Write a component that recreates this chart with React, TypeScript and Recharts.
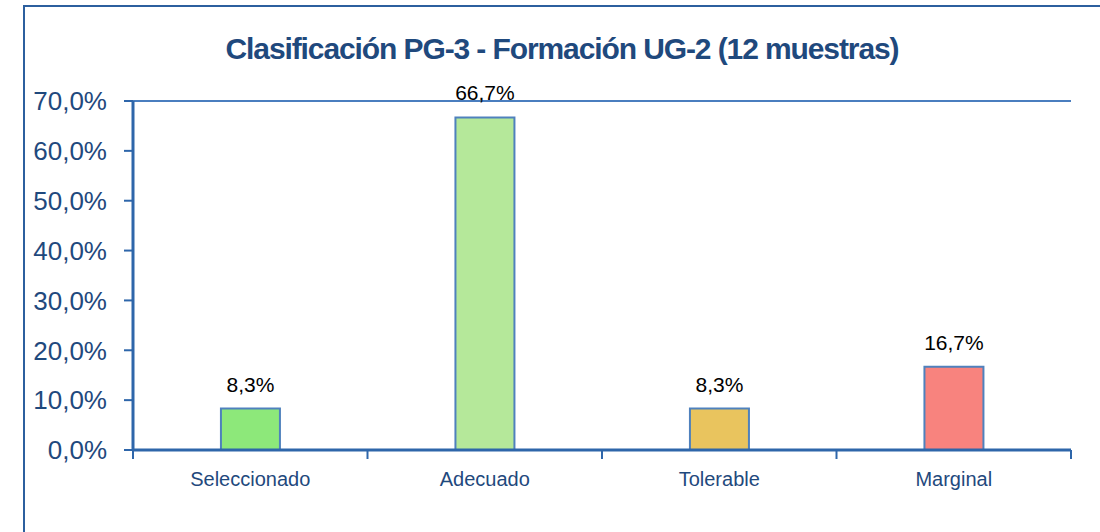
import React from "react";
import { BarChart, Bar, XAxis, YAxis, CartesianGrid, LabelList, Cell } from "recharts";

const categories = ["Seleccionado", "Adecuado", "Tolerable", "Marginal"];
const values = [8.3, 66.7, 8.3, 16.7];
const colors = ["#8DE87A", "#B5E89A", "#E9C45E", "#F8837E"];
const yTicks = [0, 10, 20, 30, 40, 50, 60, 70];
const title = "Clasificación PG-3 - Formación UG-2 (12 muestras)";

const data = categories.map((c, i) => ({ name: c, value: values[i] }));

const AXIS = "#2E66AA";
const GRID = "#4A7EBF";
const TEXT = "#1F497D";

const fmtPct = (v: number) => v.toFixed(1).replace(".", ",") + "%";

const XTick = (props: any) => {
  const { x, y, payload, index, visibleTicksCount } = props;
  const off = payload.offset || 0;
  const last = index === (visibleTicksCount ?? categories.length) - 1;
  return (
    <g>
      <line x1={x - off} x2={x - off} y1={y} y2={y + 9} stroke={AXIS} strokeWidth={2} />
      {last && <line x1={x + off} x2={x + off} y1={y} y2={y + 9} stroke={AXIS} strokeWidth={2} />}
      <text
        x={x}
        y={y + 22}
        dy="0.71em"
        textAnchor="middle"
        fill={TEXT}
        fontSize={20}
        fontFamily="'Liberation Sans', Arial, sans-serif"
      >
        {payload.value}
      </text>
    </g>
  );
};

export default function App() {
  return (
    <div style={{ position: "absolute", left: 0, top: 0, width: 1100, height: 532, overflow: "hidden", background: "#fff" }}>
      <div
        style={{
          position: "absolute",
          left: 23,
          top: 5,
          width: 1300,
          height: 700,
          border: "2px solid #2C5F9E",
          boxSizing: "border-box",
        }}
      />
      <svg width={1100} height={80} style={{ position: "absolute", left: 0, top: 0 }}>
        <text
          x={562}
          y={59}
          textAnchor="middle"
          fill={TEXT}
          fontSize={30}
          fontWeight="bold"
          letterSpacing={-1.1}
          fontFamily="'Liberation Sans', Arial, sans-serif"
        >
          {title}
        </text>
      </svg>
      <div style={{ position: "absolute", left: 0, top: 0 }}>
        <BarChart
          width={1100}
          height={532}
          data={data}
          margin={{ top: 101, right: 29, left: 0, bottom: 0 }}
          barCategoryGap="37.5%"
        >
          <CartesianGrid vertical={false} stroke={GRID} strokeWidth={2} />
          <XAxis
            dataKey="name"
            height={82}
            axisLine={{ stroke: AXIS, strokeWidth: 3 }}
            tickLine={false}
            tickSize={0}
            tickMargin={0}
            tick={<XTick />}
            interval={0}
          />
          <YAxis
            yAxisId="left"
            width={133}
            domain={[0, 70]}
            ticks={yTicks}
            tickFormatter={fmtPct}
            axisLine={{ stroke: AXIS, strokeWidth: 3 }}
            tickLine={{ stroke: AXIS, strokeWidth: 2 }}
            tickSize={9}
            tickMargin={17}
            tick={{ fill: TEXT, fontSize: 26, fontFamily: "'Liberation Sans', Arial, sans-serif" }}
          />
          <YAxis
            yAxisId="right"
            orientation="right"
            width={0}
            domain={[0, 70]}
            tick={false}
            tickLine={false}
            axisLine={{ stroke: AXIS, strokeWidth: 2 }}
          />
          <Bar yAxisId="left" dataKey="value" isAnimationActive={false} stroke="#4F81BD" strokeWidth={2}>
            {data.map((d, i) => (
              <Cell key={d.name} fill={colors[i]} />
            ))}
            <LabelList
              dataKey="value"
              position="top"
              offset={17}
              formatter={(v: any) => fmtPct(Number(v))}
              fill="#000"
              fontSize={21}
              fontFamily="'Liberation Sans', Arial, sans-serif"
            />
          </Bar>
        </BarChart>
      </div>
    </div>
  );
}
